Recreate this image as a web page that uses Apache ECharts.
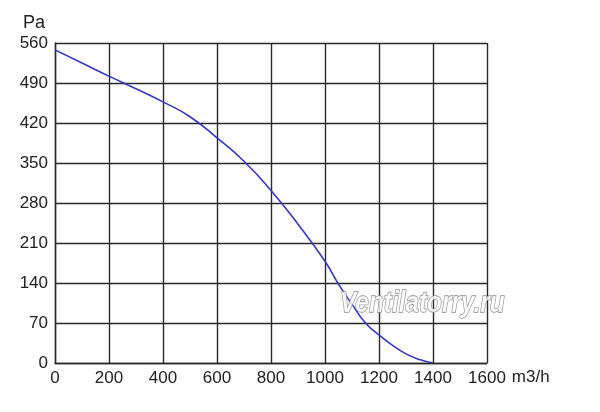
<!DOCTYPE html>
<html>
<head>
<meta charset="utf-8">
<script src="https://cdn.jsdelivr.net/npm/echarts@6/dist/echarts.min.js"></script>
<style>
  html, body { margin: 0; padding: 0; background: #fff; }
  #main { width: 600px; height: 412px; }
</style>
</head>
<body>
<div id="main"></div>
<script>
// airflow, m3/h
var flow = [0, 100, 200, 300, 400, 500, 600, 700, 800, 900, 1000, 1050, 1100, 1150, 1200, 1250, 1300, 1350, 1400];
// static pressure, Pa
var pressure = [548, 525, 502, 480, 457, 431, 394, 353, 302, 243, 178, 138, 103, 70, 49, 31, 16, 6, 0];

var xTicks = [0, 200, 400, 600, 800, 1000, 1200, 1400, 1600];
var yTicks = [0, 70, 140, 210, 280, 350, 420, 490, 560];

var myChart = echarts.init(document.getElementById('main'));

var gridLine = { show: true, lineStyle: { color: '#2a2a2a', width: 1.4 } };

var option = {
    animation: false,
    backgroundColor: '#fff',
    grid: { left: 55, right: 113, top: 43, bottom: 49 },
    xAxis: {
        type: 'value',
        min: xTicks[0],
        max: xTicks[xTicks.length - 1],
        interval: 200,
        name: 'm3/h',
        nameLocation: 'end',
        nameGap: 17,
        nameTextStyle: { color: '#222', fontSize: 17, fontFamily: 'Liberation Sans', verticalAlign: 'top', padding: [6, 0, 0, 0] },
        axisLine: { show: true, lineStyle: { color: '#2a2a2a', width: 1.4 } },
        axisTick: { show: false },
        axisLabel: {
            color: '#222', fontSize: 17, fontFamily: 'Liberation Sans', margin: 7,
            formatter: function (v) { return String(v); }
        },
        splitLine: gridLine
    },
    yAxis: {
        type: 'value',
        min: yTicks[0],
        max: yTicks[yTicks.length - 1],
        interval: 70,
        name: 'Pa',
        nameLocation: 'end',
        nameGap: 11,
        nameTextStyle: { color: '#222', fontSize: 18, fontFamily: 'Liberation Sans', align: 'right', padding: [0, 10, 0, 0] },
        axisLine: { show: true, lineStyle: { color: '#2a2a2a', width: 1.4 } },
        axisTick: { show: false },
        axisLabel: {
            color: '#222', fontSize: 17, fontFamily: 'Liberation Sans', margin: 7,
            formatter: function (v) { return String(v); }
        },
        splitLine: gridLine
    },
    graphic: [{
        type: 'text',
        x: 340,
        y: 304,
        scaleX: 0.84,
        z: 100,
        style: {
            x: 0,
            y: 0,
            text: 'Ventilatorry.ru',
            font: 'italic bold 29px "Liberation Sans"',
            align: 'left',
            verticalAlign: 'middle',
            fill: 'rgba(255,255,255,0.8)',
            stroke: '#8e8e8e',
            lineWidth: 1.3
        }
    }],
    series: [{
        type: 'line',
        smooth: true,
        showSymbol: false,
        lineStyle: { color: '#3535c8', width: 1.6 },
        data: flow.map(function (f, i) { return [f, pressure[i]]; })
    }]
};

myChart.setOption(option);
</script>
</body>
</html>
